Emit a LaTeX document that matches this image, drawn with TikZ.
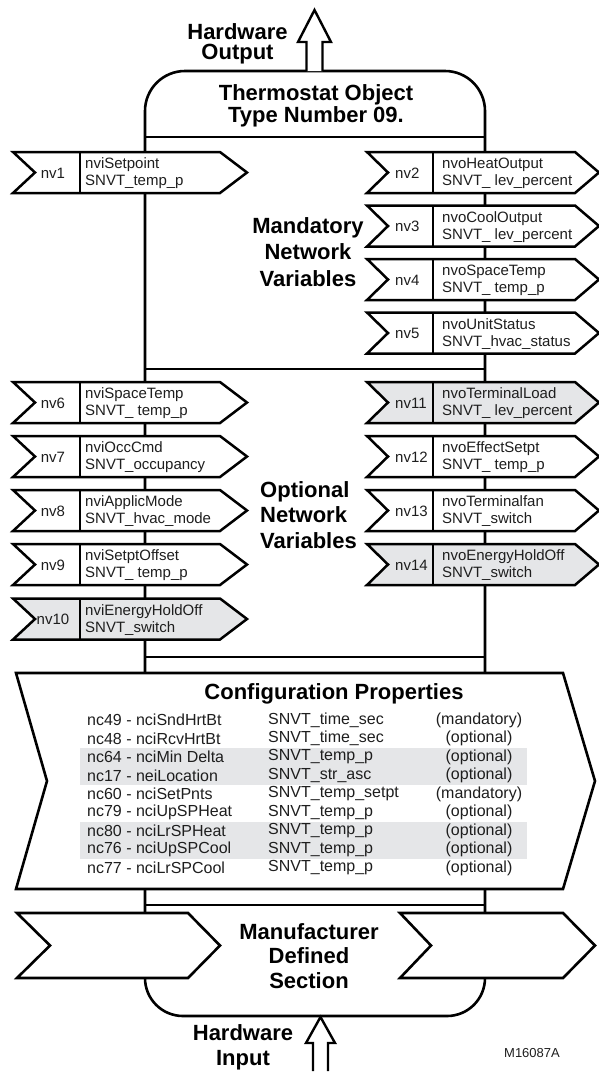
\documentclass[tikz,border=0pt]{standalone}
\usepackage{fontspec}
\setmainfont{Liberation Sans}
\definecolor{bandgray}{RGB}{229,230,232}
\definecolor{txt}{RGB}{30,30,30}
\tikzset{
  outline/.style={line width=2.6pt, draw=black, line join=miter},
  tagshape/.style={line width=2.5pt, draw=black, fill=#1},
  small/.style={font=\fontsize{15}{17}\selectfont, inner sep=0pt, text=txt},
  cfg/.style={font=\fontsize{16}{18.5}\selectfont, inner sep=0pt, text=txt},
  head/.style={font=\bfseries\fontsize{22}{26}\selectfont, align=center, inner sep=0pt},
}
% left tag: #1 top y, #2 id, #3 line1, #4 line2, #5 fill, #6 name
\newcommand\lefttag[6]{%
  \draw[tagshape=#5] (13,#1) -- (220,#1) -- (247,#1+20.5) -- (220,#1+41) -- (13,#1+41) -- (35,#1+20.5) -- cycle;
  \draw[line width=2.5pt] (80,#1) -- (80,#1+41);
  \node[small] (#6id) at (53,#1+21) {#2};
  \node[small, anchor=west, align=left] (#6tx) at (85,#1+21.5) {#3\\#4};
}
\newcommand\righttag[6]{%
  \draw[tagshape=#5] (367,#1) -- (575,#1) -- (599,#1+20.5) -- (575,#1+41) -- (367,#1+41) -- (388,#1+20.5) -- cycle;
  \draw[line width=2.5pt] (433,#1) -- (433,#1+41);
  \node[small, anchor=west] (#6id) at (395,#1+21) {#2};
  \node[small, anchor=west, align=left] (#6tx) at (442,#1+21.5) {#3\\#4};
}
\begin{document}
\begin{tikzpicture}[x=1pt,y=-1pt]
\useasboundingbox (0,0) rectangle (599,1072);
% body outline
\draw[outline, rounded corners=40] (145,673) -- (145,71) -- (485,71) -- (485,673);
\draw[outline, rounded corners=38] (145,889) -- (145,1016) -- (485,1016) -- (485,889);
\draw[outline] (145,137) -- (485,137);
\draw[outline] (145,369) -- (485,369);
\draw[outline] (145,657) -- (485,657);
\draw[outline] (145,905) -- (485,905);
% hardware arrows
\draw[outline, fill=white, line width=2.4pt] (306.5,71) -- (306.5,42) -- (298,42) -- (314.5,10) -- (331,42) -- (322.5,42) -- (322.5,71);
\draw[outline, fill=white, line width=2.4pt] (313,1071) -- (313,1043) -- (306,1043) -- (320.5,1017) -- (335,1043) -- (328,1043) -- (328,1071);
\node[head, font=\bfseries\fontsize{22}{20.5}\selectfont] (hwout) at (237.5,44) {Hardware\\Output};
\node[head, font=\bfseries\fontsize{22}{25}\selectfont] (hwin) at (243,1047) {Hardware\\Input};
\node[head, font=\bfseries\fontsize{22}{22.5}\selectfont] (title) at (316,106) {Thermostat Object\\Type Number 09.};
% section labels
\node[head, font=\bfseries\fontsize{22}{26.5}\selectfont] (mand) at (308,252) {Mandatory\\Network\\Variables};
\node[head, align=left, anchor=west, font=\bfseries\fontsize{22}{25.5}\selectfont] (opt) at (260,515) {Optional\\Network\\Variables};
% mandatory tags
\lefttag{152}{nv1}{nviSetpoint}{SNVT\_temp\_p}{white}{a1}
\righttag{152}{nv2}{nvoHeatOutput}{SNVT\_ lev\_percent}{white}{a2}
\righttag{205.5}{nv3}{nvoCoolOutput}{SNVT\_ lev\_percent}{white}{a3}
\righttag{259}{nv4}{nvoSpaceTemp}{SNVT\_ temp\_p}{white}{a4}
\righttag{312.5}{nv5}{nvoUnitStatus}{SNVT\_hvac\_status}{white}{a5}
% optional tags
\lefttag{382}{nv6}{nviSpaceTemp}{SNVT\_ temp\_p}{white}{b6}
\lefttag{436}{nv7}{nviOccCmd}{SNVT\_occupancy}{white}{b7}
\lefttag{490}{nv8}{nviApplicMode}{SNVT\_hvac\_mode}{white}{b8}
\lefttag{544}{nv9}{nviSetptOffset}{SNVT\_ temp\_p}{white}{b9}
\lefttag{598.5}{nv10}{nviEnergyHoldOff}{SNVT\_switch}{bandgray}{b10}
\righttag{382}{nv11}{nvoTerminalLoad}{SNVT\_ lev\_percent}{bandgray}{b11}
\righttag{436}{nv12}{nvoEffectSetpt}{SNVT\_ temp\_p}{white}{b12}
\righttag{490}{nv13}{nvoTerminalfan}{SNVT\_switch}{white}{b13}
\righttag{544}{nv14}{nvoEnergyHoldOff}{SNVT\_switch}{bandgray}{b14}
% configuration properties
\draw[outline, fill=white] (16,673) -- (563,673) -- (595,781) -- (563,889) -- (16,889) -- (47,781) -- cycle;
\fill[bandgray] (80,747.5) rectangle (527,784.5);
\fill[bandgray] (80,821.5) rectangle (527,858.5);
\node[head] (cfgtitle) at (334,694) {Configuration Properties};
\foreach \i/\a/\b/\c in {
  0/nc49 - nciSndHrtBt/SNVT\_time\_sec/(mandatory),
  1/nc48 - nciRcvHrtBt/SNVT\_time\_sec/(optional),
  2/nc64 - nciMin Delta/SNVT\_temp\_p/(optional),
  3/nc17 - neiLocation/SNVT\_str\_asc/(optional),
  4/nc60 - nciSetPnts/SNVT\_temp\_setpt/(mandatory),
  5/nc79 - nciUpSPHeat/SNVT\_temp\_p/(optional),
  6/nc80 - nciLrSPHeat/SNVT\_temp\_p/(optional),
  7/nc76 - nciUpSPCool/SNVT\_temp\_p/(optional),
  8/nc77 - nciLrSPCool/SNVT\_temp\_p/(optional)} {
  \node[cfg, anchor=west] (c\i a) at (87,720+\i*18.5) {\a};
  \node[cfg, anchor=west] (c\i b) at (268,720+\i*18.5) {\b};
  \node[cfg] (c\i c) at (479,720+\i*18.5) {\c};
}
% manufacturer section
\draw[outline, fill=white] (17,913) -- (188,913) -- (220,945.5) -- (188,978) -- (17,978) -- (50,945.5) -- cycle;
\draw[outline, fill=white] (400,913) -- (563,913) -- (595,945.5) -- (563,978) -- (400,978) -- (431,945.5) -- cycle;
\node[head, font=\bfseries\fontsize{22}{24.5}\selectfont] (manu) at (309,956) {Manufacturer\\Defined\\Section};
\node[font=\fontsize{13}{15}\selectfont, inner sep=0pt, text=txt] (code) at (532,1053) {M16087A};
\end{tikzpicture}
\end{document}
